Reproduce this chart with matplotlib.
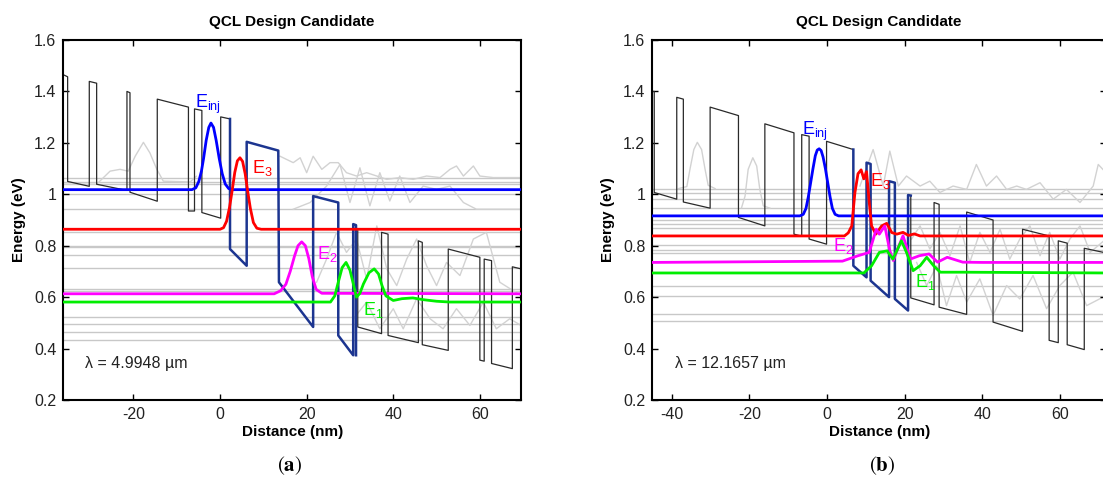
import matplotlib

matplotlib.use("Agg")
import matplotlib.pyplot as plt
from matplotlib.ticker import FixedLocator, FixedFormatter

plt.rcParams["font.family"] = ["Liberation Sans", "DejaVu Sans"]
plt.rcParams["mathtext.fontset"] = "custom"
plt.rcParams["mathtext.rm"] = "Liberation Sans"
plt.rcParams["mathtext.it"] = "Liberation Sans:italic"
plt.rcParams["mathtext.bf"] = "Liberation Sans:bold"
plt.rcParams["axes.unicode_minus"] = False

# ---------------- panel (a): lambda = 4.9948 um ----------------
A_XLIM = (-36.2, 69.5)
A_XTICKS = [-20, 0, 20, 40, 60]

# conduction band, injector side (black), active region (dark blue), collector (black)
A_BAND1_X = [-36.2, -35.2, -35.2, -30.2, -30.2, -28.5, -28.5, -21.5, -21.5, -20.8, -20.8,
             -14.5, -14.5, -7.3, -7.3, -5.9, -5.9, -4.2, -4.2, 0.15, 0.15, 2.3]
A_BAND1_E = [1.465, 1.457, 1.050, 1.031, 1.439, 1.432, 1.039, 1.015, 1.400, 1.395, 1.008,
             0.973, 1.370, 1.339, 0.935, 0.935, 1.332, 1.326, 0.929, 0.907, 1.301, 1.293]
A_ACT_X = [2.3, 2.3, 6.15, 6.15, 13.45, 13.6, 21.5, 21.5, 27.3, 27.3, 30.75, 30.75, 31.4, 31.4]
A_ACT_E = [1.293, 0.787, 0.722, 1.204, 1.170, 0.658, 0.484, 0.993, 0.968, 0.451, 0.374,
           0.884, 0.880, 0.374]
A_BAND2_X = [31.8, 31.8, 37.3, 37.3, 38.8, 38.8, 45.8, 45.8, 46.7, 46.7, 52.7, 52.7, 60.0,
             60.0, 61.0, 61.0, 62.7, 62.7, 67.5, 67.5, 69.5]
A_BAND2_E = [0.858, 0.484, 0.458, 0.852, 0.845, 0.451, 0.423, 0.819, 0.813, 0.415, 0.393,
             0.787, 0.755, 0.355, 0.351, 0.748, 0.742, 0.342, 0.322, 0.718, 0.710]

A_EINJ_X = [-36.2, -6.5, -5.6, -4.9, -4.3, -3.8, -3.2, -2.6, -2.1, -1.5, -0.9, -0.2, 0.5,
            1.2, 2.0, 3.0, 69.5]
A_EINJ_E = [1.018, 1.018, 1.025, 1.050, 1.090, 1.140, 1.210, 1.260, 1.277, 1.260, 1.210,
            1.140, 1.080, 1.040, 1.022, 1.018, 1.018]
A_E3_X = [-36.2, 0.0, 0.8, 1.5, 2.2, 2.8, 3.4, 4.0, 4.6, 5.2, 5.8, 6.4, 7.0, 7.7, 8.5, 9.5, 69.5]
A_E3_E = [0.864, 0.864, 0.870, 0.895, 0.950, 1.015, 1.085, 1.130, 1.142, 1.128, 1.080,
          1.010, 0.945, 0.890, 0.868, 0.864, 0.864]
A_E2_X = [-36.2, 12.5, 14.0, 15.2, 16.2, 17.2, 18.0, 18.85, 19.7, 20.5, 21.3, 22.2, 23.5, 69.5]
A_E2_E = [0.613, 0.613, 0.625, 0.650, 0.700, 0.760, 0.800, 0.815, 0.800, 0.750, 0.680,
          0.630, 0.615, 0.613]
A_E1_X = [-36.2, 25.5, 26.5, 27.3, 28.2, 29.1, 30.0, 30.8, 31.5, 32.3, 33.1, 34.4, 35.6,
          36.6, 37.4, 38.3, 40.0, 42.0, 44.5, 47.0, 50.0, 53.0, 69.5]
A_E1_E = [0.581, 0.581, 0.605, 0.658, 0.715, 0.735, 0.705, 0.650, 0.600, 0.615, 0.651,
          0.695, 0.710, 0.690, 0.645, 0.605, 0.587, 0.594, 0.597, 0.590, 0.584, 0.581, 0.581]

A_LEVELS = [1.062, 1.048, 1.039, 1.0, 0.942, 0.852, 0.800, 0.795, 0.763, 0.714, 0.632,
            0.625, 0.523, 0.497, 0.463, 0.432]
A_GRAY = [
    ([-36.2, -28.5, -25.4, -23.1, -21.2, -19.6, -17.7, -16.2, -14.6, -13.1, -6.9, -5.5],
     [1.039, 1.039, 1.090, 1.097, 1.090, 1.148, 1.202, 1.161, 1.097, 1.051, 1.048, 1.07]),
    ([13.85, 16.9, 18.5, 20.0, 21.5, 23.5, 25.4, 27.3, 29.2, 31.5, 33.85, 36.2, 38.5, 41.5,
      44.6, 47.7, 50.8, 53.1, 54.6, 56.2, 58.5, 60.0, 63.1, 69.5],
     [1.148, 1.123, 1.142, 1.084, 1.148, 1.097, 1.123, 1.123, 1.084, 1.071, 1.084, 1.071,
      1.058, 1.065, 1.058, 1.071, 1.065, 1.097, 1.110, 1.071, 1.110, 1.071, 1.065, 1.065]),
    ([16.9, 20.8, 24.6, 27.7, 30.0, 32.3, 34.6, 36.9, 39.2, 41.5, 43.85, 46.9, 50.0, 53.1,
      56.2, 59.2, 63.1, 69.5],
     [0.942, 0.968, 1.032, 1.116, 0.968, 1.103, 0.955, 1.084, 0.974, 1.071, 0.968, 1.032,
      1.019, 1.032, 0.968, 0.942, 0.942, 0.942]),
    ([22.3, 24.6, 26.9, 29.2, 31.5, 33.85, 36.2, 38.5, 40.8, 43.1, 45.4, 47.7, 50.0, 52.3,
      55.4, 58.5, 61.5, 64.6, 69.5],
     [0.658, 0.748, 0.852, 0.774, 0.826, 0.671, 0.877, 0.710, 0.645, 0.748, 0.826, 0.722,
      0.645, 0.735, 0.684, 0.826, 0.852, 0.658, 0.606]),
    ([30.8, 33.85, 36.9, 40.0, 42.3, 45.4, 48.5, 51.5, 54.6, 57.7, 60.8, 63.8, 66.9, 69.5],
     [0.516, 0.581, 0.477, 0.555, 0.477, 0.594, 0.516, 0.477, 0.555, 0.490, 0.581, 0.477,
      0.516, 0.490]),
]
A_LABELS = [(-5.8, 1.335, "inj", "#0000ff"), (7.3, 1.084, "3", "#ff0000"),
            (22.3, 0.748, "2", "#ff00ff"), (33.1, 0.529, "1", "#00ee00")]
A_LAMBDA = "\u03bb = 4.9948 \u00b5m"
A_LAMBDA_POS = (-31.2, 0.342)

# ---------------- panel (b): lambda = 12.1657 um ----------------
B_XLIM = (-45.0, 71.9)
B_XTICKS = [-40, -20, 0, 20, 40, 60]

B_BAND1_X = [-45.0, -44.5, -44.5, -38.7, -38.7, -37.0, -37.0, -30.1, -30.1, -22.8, -22.8,
             -16.0, -16.0, -8.5, -8.5, -6.5, -6.5, -4.6, -4.6, -0.1, -0.1, 6.8]
B_BAND1_E = [1.400, 1.400, 1.007, 0.981, 1.377, 1.370, 0.970, 0.946, 1.339, 1.306, 0.910,
             0.877, 1.274, 1.239, 0.845, 0.837, 1.232, 1.226, 0.826, 0.806, 1.206, 1.174]
B_ACT_X = [6.8, 6.8, 10.2, 10.2, 11.25, 11.25, 16.0, 16.0, 17.5, 17.5, 20.9, 20.9, 21.6]
B_ACT_E = [1.174, 0.722, 0.677, 1.123, 1.118, 0.664, 0.600, 1.051, 1.045, 0.593, 0.548,
           0.997, 0.995]
B_BAND2_X = [21.6, 21.6, 27.6, 27.6, 28.9, 28.9, 36.0, 36.0, 42.8, 42.8, 50.4, 50.4, 57.25,
             57.25, 59.6, 59.6, 61.9, 61.9, 66.3, 66.3, 71.9]
B_BAND2_E = [0.995, 0.597, 0.570, 0.968, 0.961, 0.561, 0.533, 0.931, 0.900, 0.503, 0.467,
             0.864, 0.838, 0.432, 0.423, 0.819, 0.810, 0.415, 0.396, 0.790, 0.772]

B_EINJ_X = [-45.0, -7.0, -6.1, -5.4, -4.8, -4.2, -3.6, -3.0, -2.5, -2.0, -1.5, -1.0, -0.4,
            0.2, 0.8, 1.4, 2.1, 3.0, 71.9]
B_EINJ_E = [0.916, 0.916, 0.922, 0.945, 0.990, 1.045, 1.100, 1.150, 1.172, 1.177, 1.170,
            1.145, 1.100, 1.045, 0.990, 0.945, 0.922, 0.916, 0.916]
B_E3_X = [-45.0, 4.5, 5.5, 6.4, 7.2, 8.0, 8.8, 9.5, 10.2, 10.9, 11.5, 12.6, 14.1, 15.4,
          16.7, 18.0, 19.6, 21.0, 22.5, 24.0, 71.9]
B_E3_E = [0.838, 0.838, 0.850, 0.877, 1.006, 1.080, 1.095, 1.060, 1.088, 0.968, 0.877,
          0.845, 0.877, 0.887, 0.851, 0.845, 0.852, 0.840, 0.846, 0.838, 0.838]
B_E2_X = [-45.0, 4.0, 8.0, 10.9, 12.7, 13.5, 14.9, 16.2, 17.1, 18.2, 19.6, 21.5, 23.8,
          26.3, 28.5, 31.0, 35.0, 40.0, 71.9]
B_E2_E = [0.735, 0.740, 0.761, 0.774, 0.864, 0.845, 0.877, 0.780, 0.742, 0.787, 0.839,
          0.748, 0.761, 0.768, 0.736, 0.755, 0.736, 0.735, 0.735]
B_E1_X = [-45.0, 9.5, 11.5, 13.5, 15.5, 17.0, 19.2, 20.5, 22.2, 24.0, 25.7, 27.5, 29.2,
          35.0, 71.9]
B_E1_E = [0.694, 0.694, 0.722, 0.774, 0.780, 0.748, 0.819, 0.774, 0.703, 0.722, 0.755,
          0.722, 0.697, 0.697, 0.694]

B_LEVELS = [1.022, 1.005, 0.983, 0.945, 0.900, 0.884, 0.869, 0.803, 0.783, 0.772, 0.645,
            0.605, 0.536, 0.506]
B_GRAY = [
    ([-38.3, -36.1, -35.3, -34.3, -33.4, -32.3, -31.4, -30.6, -28.8],
     [1.022, 1.030, 1.097, 1.174, 1.202, 1.174, 1.097, 1.035, 1.022]),
    ([-22.0, -21.1, -20.3, -19.1, -18.1, -17.3, -16.4, -14.7],
     [0.948, 0.993, 1.097, 1.142, 1.110, 1.019, 0.955, 0.946]),
    ([8.5, 11.9, 14.5, 16.2, 18.4, 20.5, 24.0, 26.5, 29.1, 32.5, 36.0, 38.5, 41.1, 43.7,
      46.3, 48.9, 51.4, 54.9, 58.3, 61.7, 65.2, 68.6, 69.9, 71.9],
     [1.032, 1.174, 1.032, 1.168, 1.032, 1.071, 1.032, 1.051, 1.007, 1.032, 1.019, 1.116,
      1.032, 1.071, 1.019, 1.032, 1.019, 1.045, 0.981, 1.019, 0.968, 1.032, 1.116, 1.084]),
    ([21.8, 24.0, 26.5, 29.1, 31.7, 34.3, 36.8, 39.4, 42.0, 44.6, 47.1, 49.7, 52.3, 54.9,
      57.4, 60.0, 62.6, 65.2, 67.8, 71.9],
     [0.826, 0.877, 0.787, 0.852, 0.761, 0.877, 0.735, 0.852, 0.774, 0.864, 0.748, 0.826,
      0.877, 0.761, 0.852, 0.748, 0.826, 0.877, 0.774, 0.826]),
    ([23.1, 25.7, 28.3, 30.8, 33.4, 36.0, 39.4, 42.8, 46.3, 49.7, 53.1, 56.6, 60.0, 63.4,
      66.9, 71.9],
     [0.735, 0.645, 0.722, 0.567, 0.684, 0.581, 0.671, 0.529, 0.645, 0.593, 0.684, 0.555,
      0.645, 0.697, 0.567, 0.606]),
]
B_LABELS = [(-6.5, 1.232, "inj", "#0000ff"), (11.1, 1.032, "3", "#ff0000"),
            (1.6, 0.780, "2", "#ff00ff"), (22.7, 0.639, "1", "#00ee00")]
B_LAMBDA = "\u03bb = 12.1657 \u00b5m"
B_LAMBDA_POS = (-39.1, 0.342)

Y_TICKS = [0.2, 0.4, 0.6, 0.8, 1.0, 1.2, 1.4, 1.6]
Y_TICKLABELS = ["0.2", "0.4", "0.6", "0.8", "1", "1.2", "1.4", "1.6"]

GRAY_LEVEL = "#c8c8c8"
GRAY_WF = "#d2d2d2"
BAND_BLACK = "#2a2a2a"
BAND_BLUE = "#1c3590"


def draw_panel(ax, xlim, xticks, band1, active, band2, waves, levels, gray, labels,
               lam_text, lam_pos):
    for lv in levels:
        ax.axhline(lv, color=GRAY_LEVEL, lw=1.0, zorder=1)
    for gx, ge in gray:
        ax.plot(gx, ge, color=GRAY_WF, lw=1.0, zorder=1.5)

    ax.plot(band1[0], band1[1], color=BAND_BLACK, lw=0.9, zorder=2)
    ax.plot(band2[0], band2[1], color=BAND_BLACK, lw=0.9, zorder=2)
    ax.plot(active[0], active[1], color=BAND_BLUE, lw=1.8, zorder=3)

    wave_colors = ["#0000ff", "#ff0000", "#ff00ff", "#00ee00"]
    for (wx, we), c in zip(waves, wave_colors):
        ax.plot(wx, we, color=c, lw=2.0, zorder=4)

    for x, e, sub, c in labels:
        ax.text(x, e, r"$\mathrm{E_{%s}}$" % sub, color=c, fontsize=13,
                ha="left", va="baseline", zorder=5)

    ax.text(lam_pos[0], lam_pos[1], lam_text, fontsize=11.5, color="#222222",
            ha="left", va="center")

    ax.set_xlim(*xlim)
    ax.set_ylim(0.2, 1.6)
    ax.xaxis.set_major_locator(FixedLocator(xticks))
    ax.yaxis.set_major_locator(FixedLocator(Y_TICKS))
    ax.yaxis.set_major_formatter(FixedFormatter(Y_TICKLABELS))
    ax.tick_params(direction="in", top=True, right=True, length=4, width=1.0,
                   labelsize=11.5, pad=5, labelcolor="#222222")
    for sp in ax.spines.values():
        sp.set_linewidth(1.5)
    ax.set_title("QCL Design Candidate", fontweight="bold", fontsize=11, pad=10)
    ax.set_xlabel("Distance (nm)", fontweight="bold", fontsize=11, labelpad=2)
    ax.set_ylabel("Energy (eV)", fontweight="bold", fontsize=11, labelpad=6)


fig = plt.figure(figsize=(11.03, 4.86), dpi=100)
fig.patch.set_facecolor("white")

ax_a = fig.add_axes([63.3 / 1103, 1 - 400 / 486, (521 - 63.3) / 1103, 360 / 486])
ax_b = fig.add_axes([652.3 / 1103, 1 - 400 / 486, (1106 - 652.3) / 1103, 360 / 486])

draw_panel(ax_a, A_XLIM, A_XTICKS, (A_BAND1_X, A_BAND1_E), (A_ACT_X, A_ACT_E),
           (A_BAND2_X, A_BAND2_E),
           [(A_EINJ_X, A_EINJ_E), (A_E3_X, A_E3_E), (A_E2_X, A_E2_E), (A_E1_X, A_E1_E)],
           A_LEVELS, A_GRAY, A_LABELS, A_LAMBDA, A_LAMBDA_POS)
draw_panel(ax_b, B_XLIM, B_XTICKS, (B_BAND1_X, B_BAND1_E), (B_ACT_X, B_ACT_E),
           (B_BAND2_X, B_BAND2_E),
           [(B_EINJ_X, B_EINJ_E), (B_E3_X, B_E3_E), (B_E2_X, B_E2_E), (B_E1_X, B_E1_E)],
           B_LEVELS, B_GRAY, B_LABELS, B_LAMBDA, B_LAMBDA_POS)

fig.text(290 / 1103, 1 - 466 / 486, r"$(\mathbf{a})$", math_fontfamily="stix",
         fontsize=15, ha="center", va="center")
fig.text(882 / 1103, 1 - 466 / 486, r"$(\mathbf{b})$", math_fontfamily="stix",
         fontsize=15, ha="center", va="center")

fig.savefig("out.png", dpi=100)
